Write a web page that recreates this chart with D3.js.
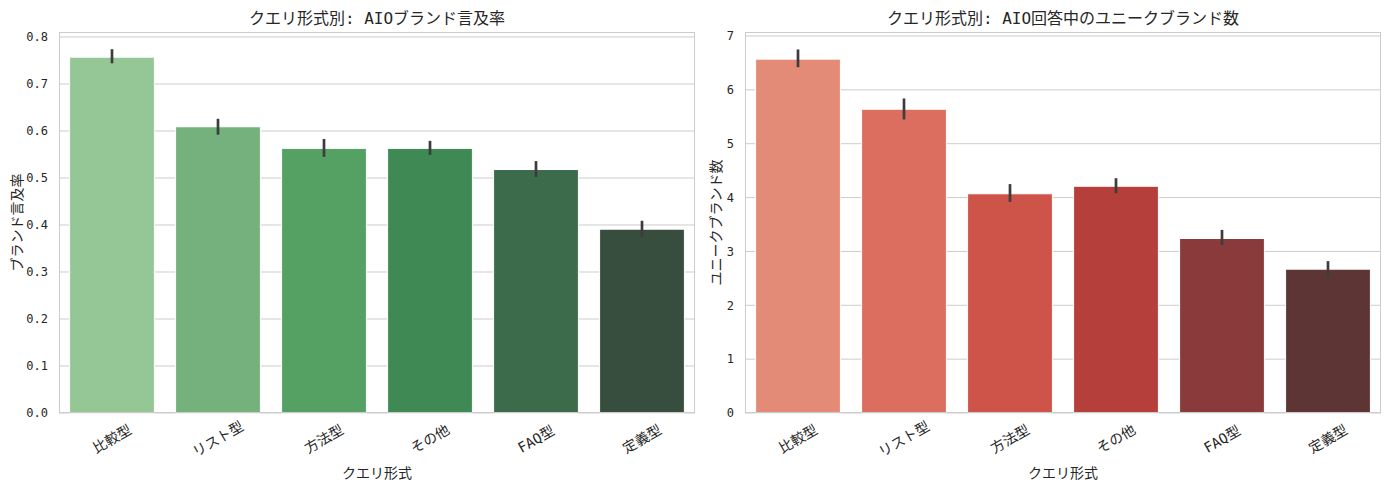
<!DOCTYPE html>
<html>
<head>
<meta charset="utf-8">
<script src="https://cdn.jsdelivr.net/npm/d3@7"></script>
<style>
  body { margin: 0; background: #fff; }
  svg text { font-family: "DejaVu Sans Mono", "Noto Sans CJK JP", monospace; fill: #262626; }
</style>
</head>
<body>
<svg id="chart" width="1390" height="490"></svg>
<script>
// data
const categories = ["比較型", "リスト型", "方法型", "その他", "FAQ型", "定義型"];

const mentionRate = [0.757, 0.609, 0.563, 0.563, 0.518, 0.391];
const mentionLow  = [0.744, 0.592, 0.545, 0.549, 0.502, 0.374];
const mentionHigh = [0.774, 0.626, 0.583, 0.579, 0.536, 0.409];

const brandCount = [6.57, 5.64, 4.07, 4.21, 3.24, 2.67];
const brandLow   = [6.42, 5.45, 3.92, 4.08, 3.12, 2.51];
const brandHigh  = [6.75, 5.84, 4.25, 4.36, 3.40, 2.82];

const greens = ["#95c695", "#75b17d", "#55a063", "#3f8a54", "#3c6b4b", "#374e3e"];
const reds   = ["#e38b76", "#dc6e60", "#ce5348", "#b5403b", "#8a3a3b", "#5e3535"];

const svg = d3.select("#chart");

function drawPanel(opt) {
  const m = opt.box;
  const g = svg.append("g");

  const x = d3.scaleBand()
    .domain(categories)
    .range([m.left, m.right])
    .paddingInner(0.2)
    .paddingOuter(0.1);

  const y = d3.scaleLinear()
    .domain([0, opt.yMax])
    .range([m.bottom, m.top]);

  // grid
  g.append("g")
    .selectAll("line")
    .data(opt.ticks)
    .enter()
    .append("line")
    .attr("x1", m.left).attr("x2", m.right)
    .attr("y1", d => y(d)).attr("y2", d => y(d))
    .attr("stroke", "#cccccc")
    .attr("stroke-width", 1);

  // bars
  g.selectAll("rect.bar")
    .data(opt.values)
    .enter()
    .append("rect")
    .attr("class", "bar")
    .attr("x", (d, i) => x(categories[i]))
    .attr("y", d => y(d))
    .attr("width", x.bandwidth())
    .attr("height", d => y(0) - y(d))
    .attr("fill", (d, i) => opt.colors[i])
    .attr("stroke", "#ffffff")
    .attr("stroke-width", 1);

  // error bars
  g.selectAll("line.err")
    .data(opt.values)
    .enter()
    .append("line")
    .attr("class", "err")
    .attr("x1", (d, i) => x(categories[i]) + x.bandwidth() / 2)
    .attr("x2", (d, i) => x(categories[i]) + x.bandwidth() / 2)
    .attr("y1", (d, i) => y(opt.low[i]))
    .attr("y2", (d, i) => y(opt.high[i]))
    .attr("stroke", "#3d3d3d")
    .attr("stroke-width", 2.7);

  // frame
  g.append("rect")
    .attr("x", m.left + 0.5).attr("y", m.top + 0.5)
    .attr("width", m.right - m.left - 1).attr("height", m.bottom - m.top - 1)
    .attr("fill", "none")
    .attr("stroke", "#cccccc")
    .attr("stroke-width", 1);

  // y axis
  const yAxis = d3.axisLeft(y)
    .tickValues(opt.ticks)
    .tickFormat(opt.fmt)
    .tickSize(0)
    .tickPadding(11);
  const ya = g.append("g")
    .attr("transform", "translate(" + m.left + ",0)")
    .call(yAxis);
  ya.select(".domain").remove();
  ya.selectAll("text").style("font-size", "12px").attr("fill", "#262626");

  // x axis
  const xAxis = d3.axisBottom(x).tickSize(0).tickPadding(0);
  const xa = g.append("g")
    .attr("transform", "translate(0," + m.bottom + ")")
    .call(xAxis);
  xa.select(".domain").remove();
  xa.selectAll("text")
    .style("font-size", "14px")
    .attr("fill", "#262626")
    .attr("dy", null)
    .attr("y", 0)
    .attr("text-anchor", "middle")
    .attr("dominant-baseline", "central")
    .attr("transform", "translate(0,26) rotate(-30)");

  // labels
  g.append("text")
    .attr("x", (m.left + m.right) / 2)
    .attr("y", 24)
    .attr("text-anchor", "middle")
    .style("font-size", "16px")
    .text(opt.title);

  g.append("text")
    .attr("x", (m.left + m.right) / 2)
    .attr("y", 478)
    .attr("text-anchor", "middle")
    .style("font-size", "14px")
    .text("クエリ形式");

  g.append("text")
    .attr("transform", "translate(" + opt.yLabelX + "," + ((m.top + m.bottom) / 2) + ") rotate(-90)")
    .attr("text-anchor", "middle")
    .attr("dominant-baseline", "central")
    .style("font-size", "14px")
    .text(opt.yLabel);
}

drawPanel({
  box: { left: 59, right: 695, top: 32, bottom: 413 },
  yMax: 0.8106,
  ticks: [0, 0.1, 0.2, 0.3, 0.4, 0.5, 0.6, 0.7, 0.8],
  fmt: d3.format(".1f"),
  values: mentionRate, low: mentionLow, high: mentionHigh,
  colors: greens,
  title: "クエリ形式別: AIOブランド言及率",
  yLabel: "ブランド言及率",
  yLabelX: 17
});

drawPanel({
  box: { left: 745, right: 1381, top: 32, bottom: 413 },
  yMax: 7.074,
  ticks: [0, 1, 2, 3, 4, 5, 6, 7],
  fmt: d3.format("d"),
  values: brandCount, low: brandLow, high: brandHigh,
  colors: reds,
  title: "クエリ形式別: AIO回答中のユニークブランド数",
  yLabel: "ユニークブランド数",
  yLabelX: 716
});
</script>
</body>
</html>
